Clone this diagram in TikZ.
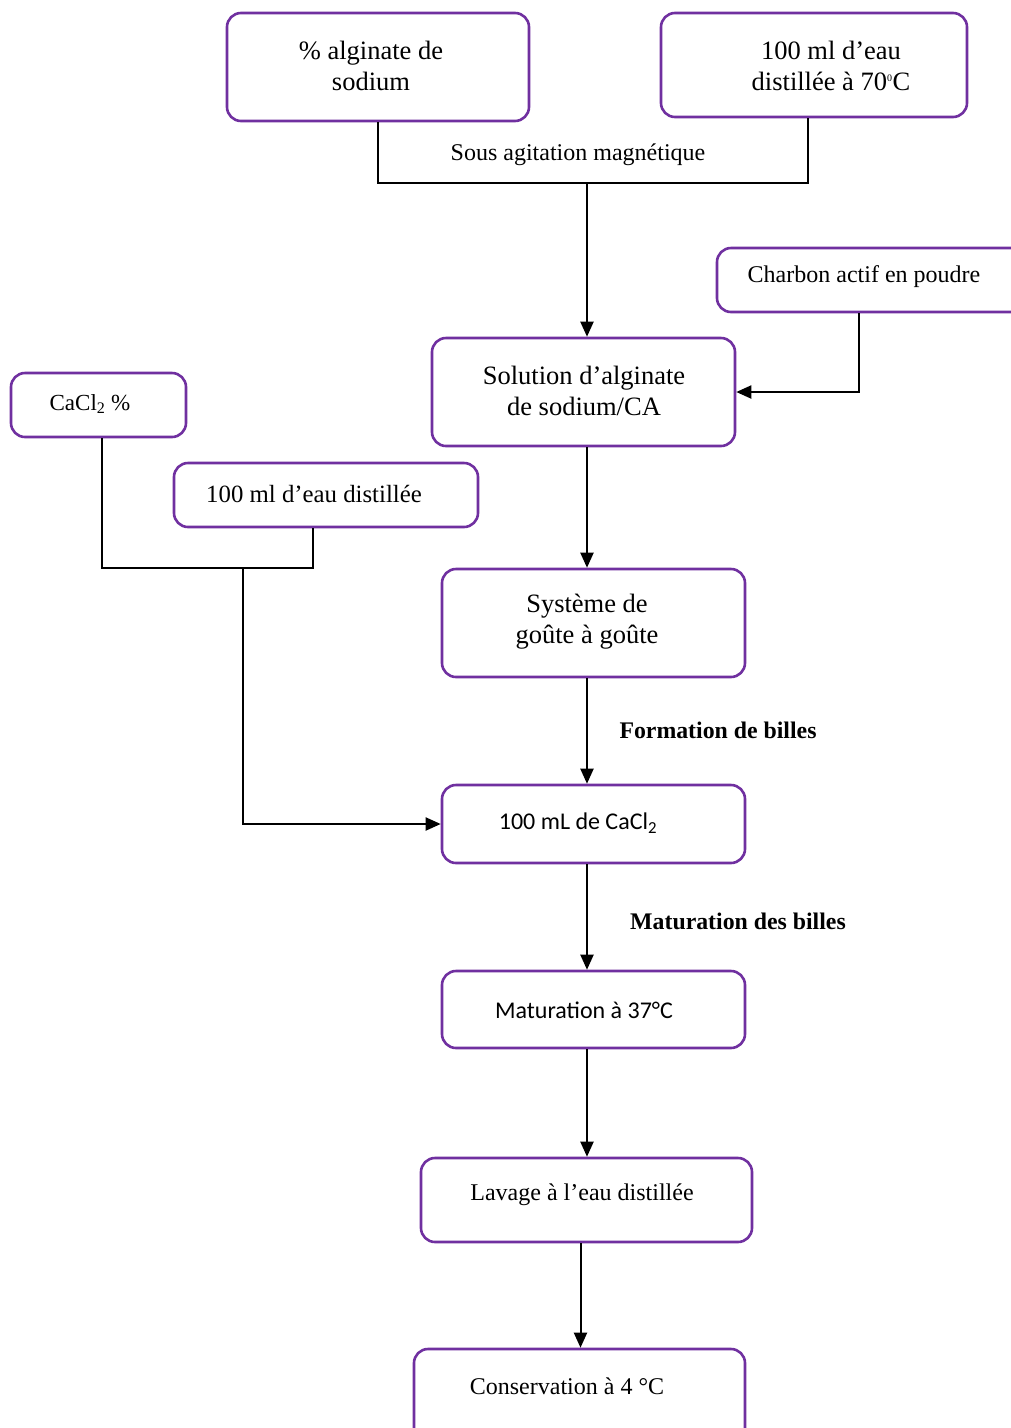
\documentclass[tikz,border=0pt]{standalone}
\usepackage{fontspec}
\setmainfont{Liberation Serif}
\newfontfamily\calfont{Carlito}
\usetikzlibrary{arrows.meta}
\definecolor{boxpurple}{HTML}{7030A0}
\tikzset{
  box/.style={draw=boxpurple, line width=2.6pt, rounded corners=14pt, fill=white, inner sep=0pt},
  txt/.style={inner sep=0pt, align=center, font=\fontsize{24}{30}\selectfont},
  bigtxt/.style={inner sep=0pt, align=center, font=\fontsize{26.5}{31}\selectfont},
  caltxt/.style={inner sep=0pt, align=center, font=\calfont\fontsize{24}{28}\selectfont},
  lbl/.style={inner sep=0pt, font=\fontsize{23.8}{26}\selectfont\bfseries},
  conn/.style={line width=2pt, draw=black},
  arr/.style={conn, -{Triangle[length=15pt,width=13pt]}}
}
\begin{document}
\begin{tikzpicture}[x=1pt,y=-1pt]
\useasboundingbox (0,0) rectangle (1011,1428);
\clip (0,0) rectangle (1011,1428);
% boxes
\node[box, minimum width=302pt, minimum height=108pt] (alg) at (378,67) {};
\node[box, minimum width=306pt, minimum height=104pt] (eau70) at (814,65) {};
\node[box, minimum width=320pt, minimum height=64pt] (charb) at (877,280) {};
\node[box, minimum width=303pt, minimum height=108pt] (sol) at (583.5,392) {};
\node[box, minimum width=175pt, minimum height=64pt] (cacl) at (98.5,405) {};
\node[box, minimum width=304pt, minimum height=64pt] (eau) at (326,495) {};
\node[box, minimum width=303pt, minimum height=108pt] (sys) at (593.5,623) {};
\node[box, minimum width=303pt, minimum height=78pt] (mlc) at (593.5,824) {};
\node[box, minimum width=303pt, minimum height=77pt] (mat) at (593.5,1009.5) {};
\node[box, minimum width=331pt, minimum height=84pt] (lav) at (586.5,1200) {};
\node[box, minimum width=331pt, minimum height=100pt] (cons) at (579.5,1399) {};
% texts
\node[bigtxt] (talg) at (371,66) {\% alginate de\\sodium};
\node[bigtxt] (teau70) at (831,66) {100 ml d’eau\\distillée à 70\textsuperscript{\fontsize{10}{10}\selectfont 0}C};
\node[txt] (tcharb) at (864,277) {Charbon actif en poudre};
\node[bigtxt] (tsol) at (584,391) {Solution d’alginate\\de sodium/CA};
\node[txt, font=\fontsize{23}{28}\selectfont] (tcacl) at (90,404) {CaCl\textsubscript{2} \%};
\node[txt, font=\fontsize{24.8}{30}\selectfont] (teau) at (314,494) {100 ml d’eau distillée};
\node[bigtxt] (tsys) at (587,622) {Système de\\goûte à goûte};
\node[caltxt] (tmlc) at (578,823) {100 mL de CaCl\textsubscript{2}};
\node[caltxt] (tmat) at (584,1010) {Maturation à 37°C};
\node[txt] (tlav) at (582,1195) {Lavage à l’eau distillée};
\node[txt] (tcons) at (567,1386) {Conservation à 4 °C};
\node[txt] (tagit) at (578,155) {Sous agitation magnétique};
\node[lbl] (lform) at (718,730) {Formation de billes};
\node[lbl] (lmatur) at (738,921) {Maturation des billes};
% connectors
\coordinate (j1) at (587,183);
\coordinate (j2) at (243,568);
\draw[conn] (alg.south) |- (j1) -| ([xshift=-6pt]eau70.south);
\draw[arr] (j1) -- (j1 |- sol.north);
\draw[arr] ([xshift=-18pt]charb.south) |- (sol.east);
\draw[conn] ([xshift=3pt]cacl.south) |- (j2) -| ([xshift=-13pt]eau.south);
\draw[arr] (j2) |- (mlc.west);
\draw[arr] (j1 |- sol.south) -- (j1 |- sys.north);
\draw[arr] (j1 |- sys.south) -- (j1 |- mlc.north);
\draw[arr] (j1 |- mlc.south) -- (j1 |- mat.north);
\draw[arr] (j1 |- mat.south) -- (j1 |- lav.north);
\draw[arr] ([xshift=-6pt]lav.south) -- ([xshift=-6pt]lav.south |- cons.north);
\end{tikzpicture}
\end{document}
